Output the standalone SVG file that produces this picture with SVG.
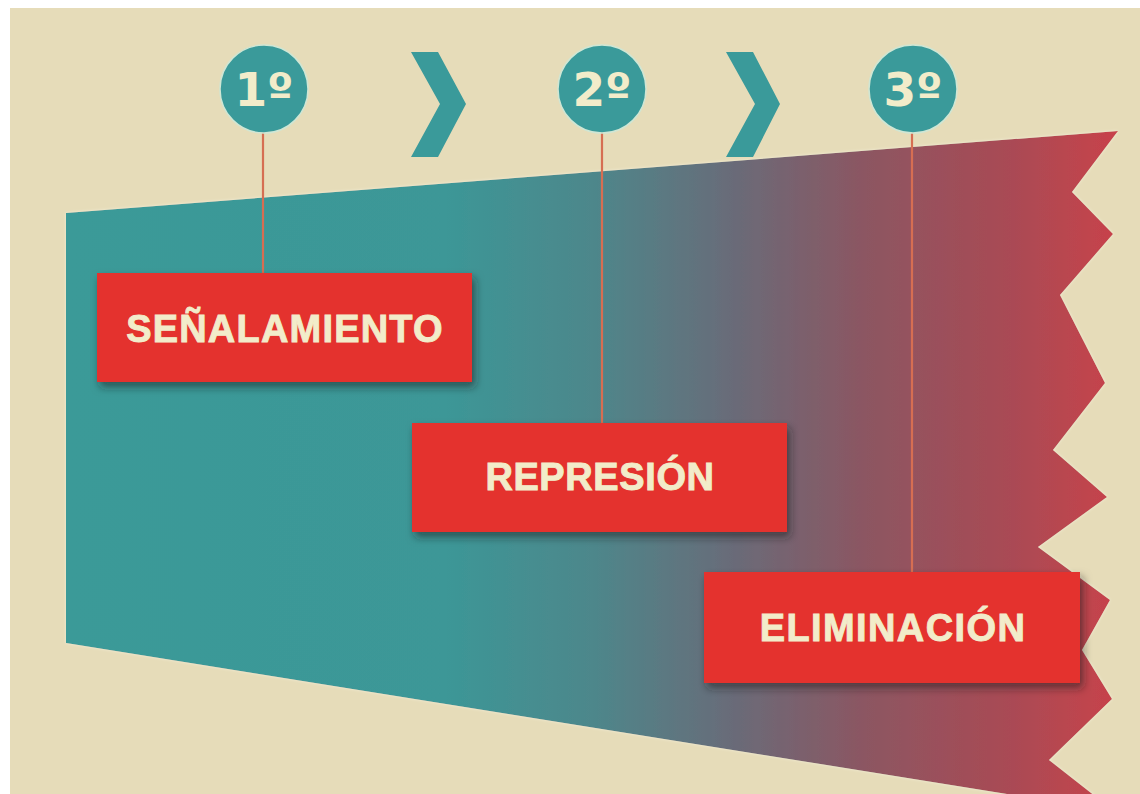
<svg xmlns="http://www.w3.org/2000/svg" width="1140" height="794" viewBox="0 0 1140 794">
  <defs>
    <linearGradient id="band" gradientUnits="userSpaceOnUse" x1="66" y1="0" x2="1118" y2="0">
      <stop offset="0" stop-color="#3a9a98"/>
      <stop offset="0.36" stop-color="#3c9797"/>
      <stop offset="0.5" stop-color="#4d878b"/>
      <stop offset="0.63" stop-color="#686c79"/>
      <stop offset="0.76" stop-color="#8c5662"/>
      <stop offset="0.9" stop-color="#aa4a54"/>
      <stop offset="1" stop-color="#c8424b"/>
    </linearGradient>
    <filter id="shadow" x="-10%" y="-20%" width="125%" height="150%">
      <feDropShadow dx="3" dy="5" stdDeviation="4" flood-color="#1a1a1a" flood-opacity="0.55"/>
    </filter>
    <filter id="soft" x="-10%" y="-10%" width="120%" height="120%">
      <feDropShadow dx="0" dy="0" stdDeviation="1.5" flood-color="#f4f0dc" flood-opacity="0.9"/>
    </filter>
  </defs>
  <style>
    .box { fill: #e4302f; filter: url(#shadow); }
    .label { font-family: "Liberation Sans", Arial, sans-serif; font-weight: bold; font-size: 38px; fill: #f2ecca; stroke: #f2ecca; stroke-width: 0.9; text-anchor: middle; }
    .step { fill: #3a9a9a; stroke: #cfe6d4; stroke-width: 1.5; }
    .num { font-family: "DejaVu Sans", "Liberation Sans", sans-serif; font-weight: bold; font-size: 47px; fill: #f2ecca; text-anchor: middle; }
    .chev { fill: #3a9a9a; }
    .link { stroke: #d66e52; stroke-width: 2.2; fill: none; }
  </style>

  <rect x="0" y="0" width="1140" height="794" fill="#ffffff"/>
  <rect x="10" y="8" width="1130" height="786" fill="#e6dcb9"/>

  <g id="band-shape" filter="url(#soft)">
    <polygon fill="url(#band)" points="66,213 1118,131 1072,192 1113,234 1060,295 1105,383 1053,450 1107,497 1038,547 1110,600 1082,650 1112,699 1049,760 1100,800 1045,800 66,643"/>
  </g>

  <g id="connectors">
    <line class="link" x1="263" y1="132" x2="263" y2="273"/>
    <line class="link" x1="602" y1="133" x2="602" y2="423"/>
    <line class="link" x1="912" y1="133" x2="912" y2="572"/>
  </g>

  <g id="chevron-1">
    <polygon class="chev" points="411,52 438,52 466,104 438,157 411,157 440,104"/>
  </g>
  <g id="chevron-2">
    <polygon class="chev" points="726,52 753,52 780,104 753,157 726,157 755,104"/>
  </g>

  <g id="step-1">
    <circle class="step" cx="264" cy="89" r="44"/>
    <text class="num" x="264" y="106">1º</text>
  </g>
  <g id="step-2">
    <circle class="step" cx="602" cy="89" r="44"/>
    <text class="num" x="602" y="106">2º</text>
  </g>
  <g id="step-3">
    <circle class="step" cx="913" cy="89" r="44"/>
    <text class="num" x="913" y="106">3º</text>
  </g>

  <g id="senalamiento">
    <rect class="box" x="97" y="273" width="375" height="109"/>
    <text class="label" x="285" y="342" letter-spacing="1.2">SEÑALAMIENTO</text>
  </g>
  <g id="represion">
    <rect class="box" x="412" y="423" width="375" height="109"/>
    <text class="label" x="600" y="490" letter-spacing="0.6">REPRESIÓN</text>
  </g>
  <g id="eliminacion">
    <rect class="box" x="704" y="572" width="376" height="111"/>
    <text class="label" x="893" y="641" letter-spacing="1.4">ELIMINACIÓN</text>
  </g>
</svg>
